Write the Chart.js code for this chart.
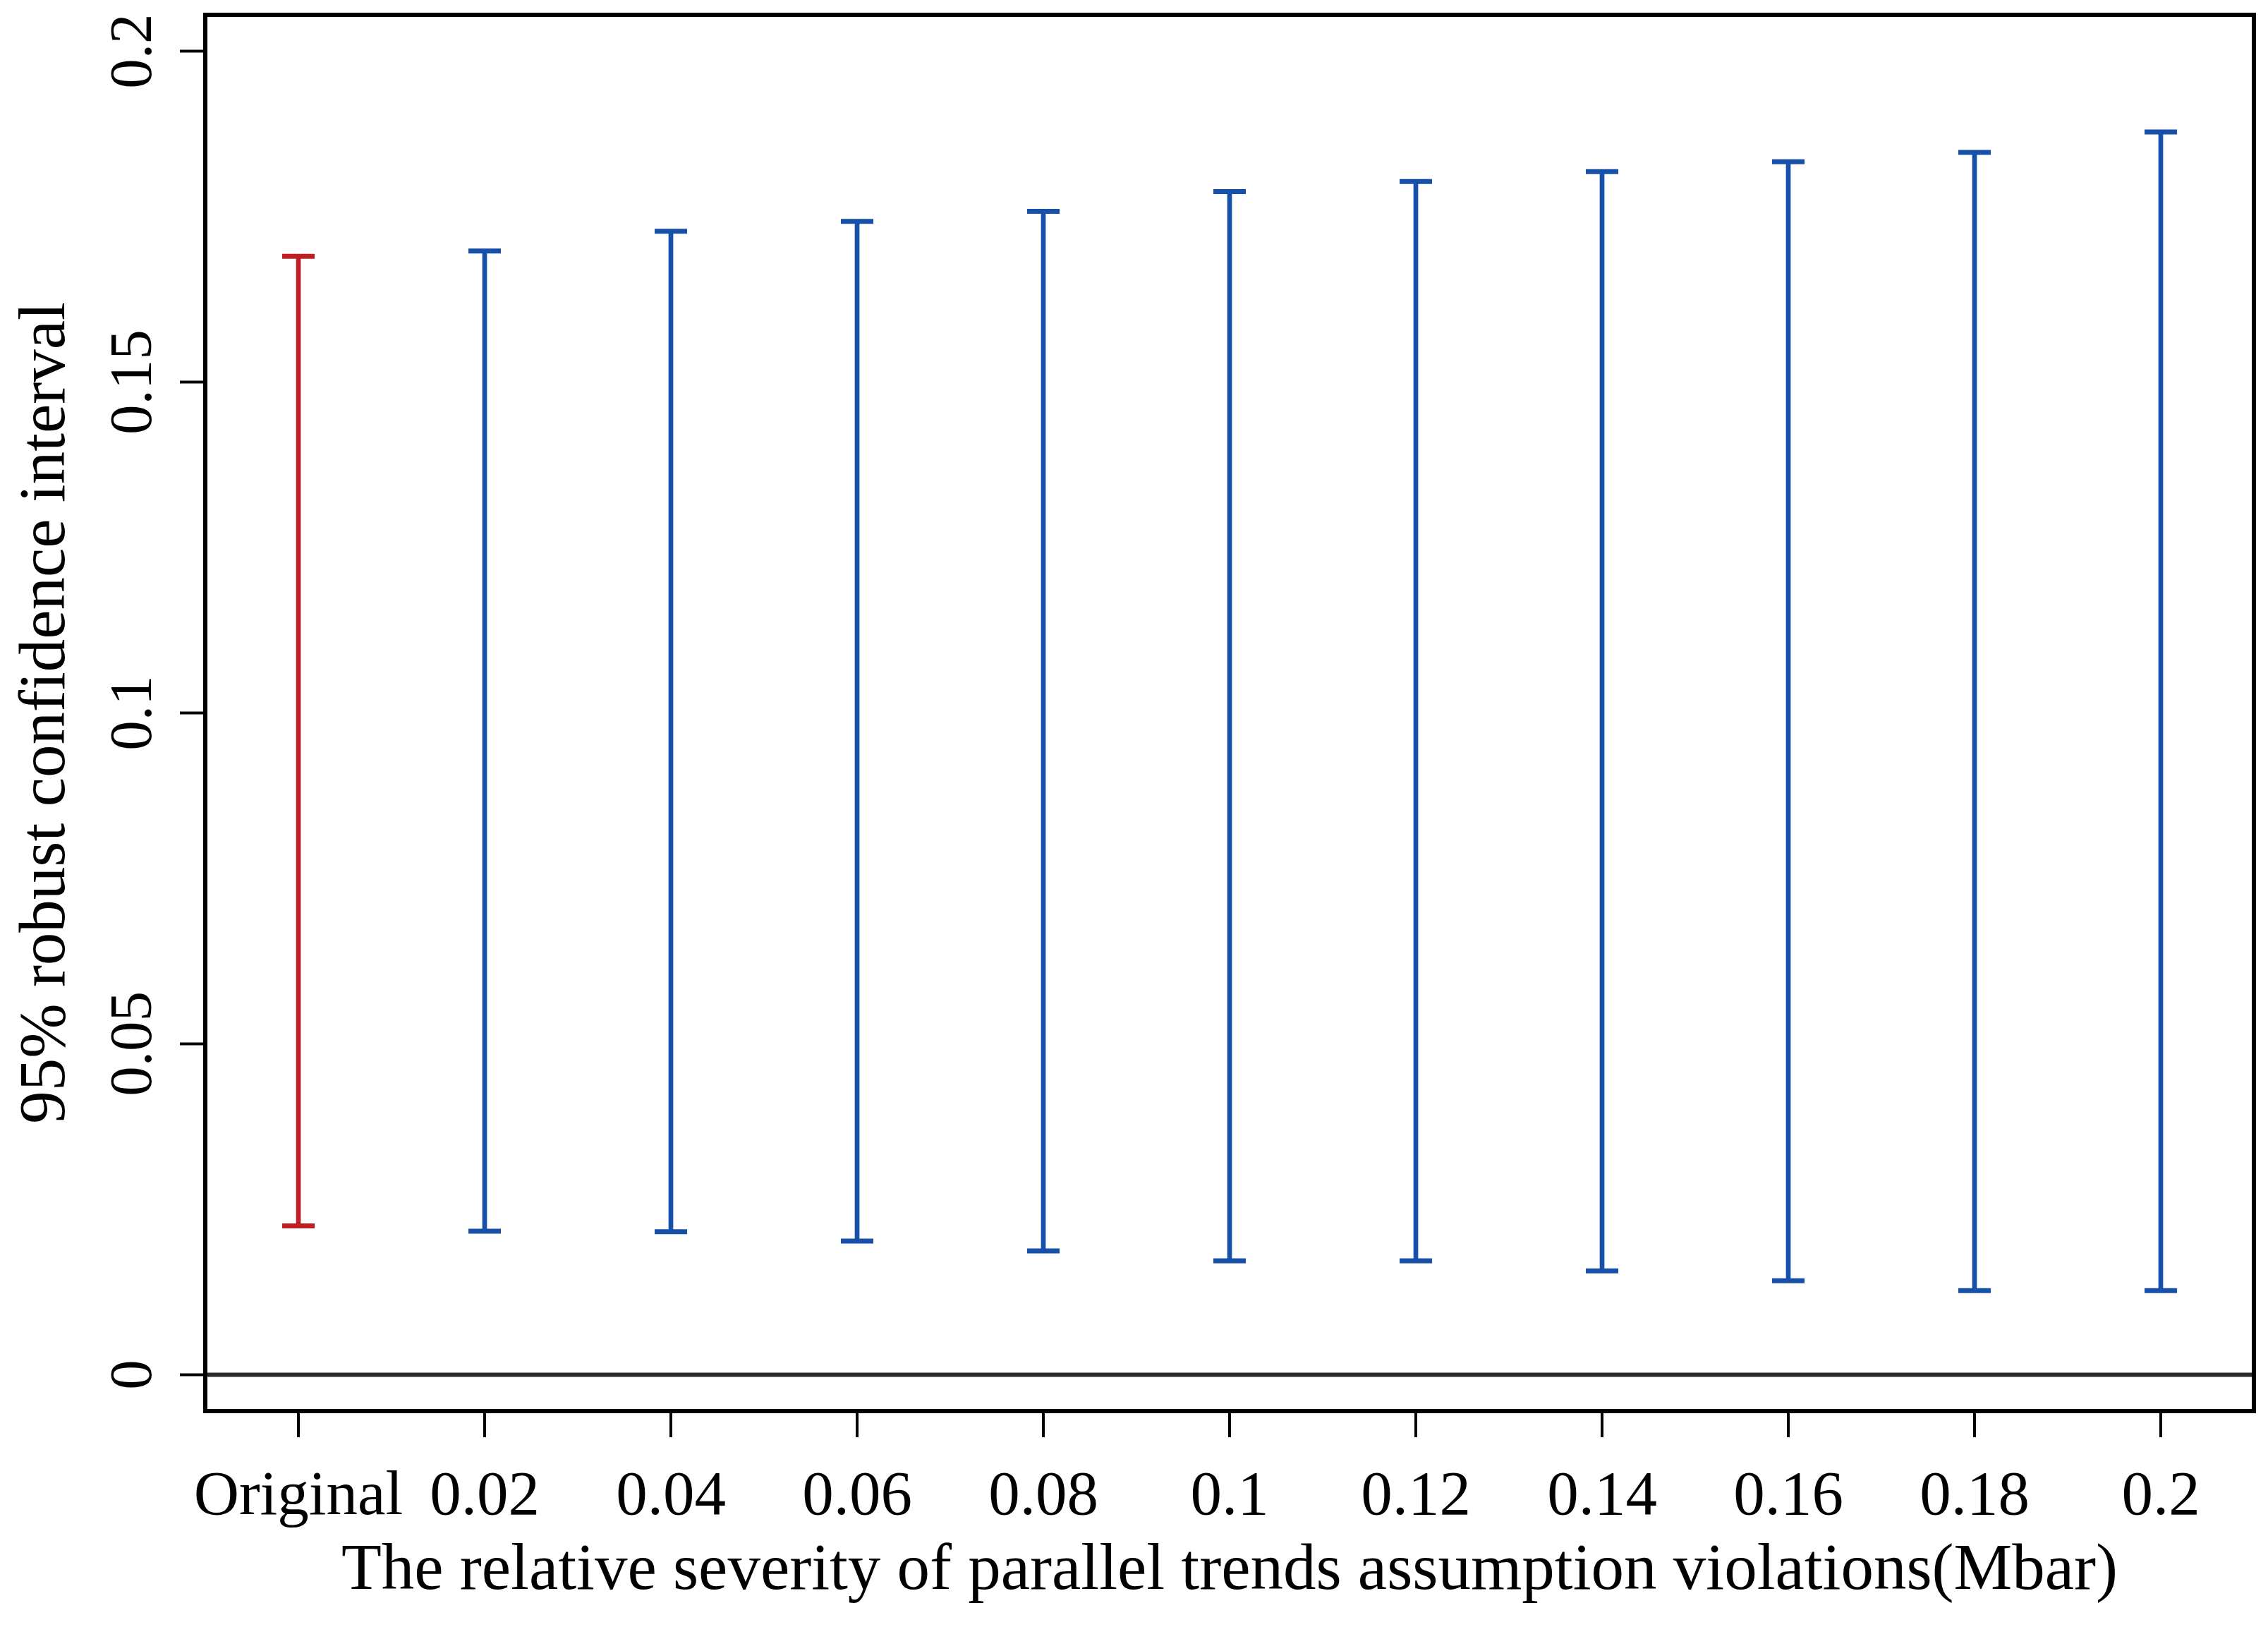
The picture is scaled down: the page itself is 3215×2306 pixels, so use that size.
<!DOCTYPE html>
<html>
<head>
<meta charset="utf-8">
<script src="https://cdn.jsdelivr.net/npm/chart.js@4"></script>
<style>
  html, body { margin: 0; padding: 0; background: #fff; }
  canvas { display: block; }
</style>
</head>
<body>
<canvas id="ciChart" width="3215" height="2306"></canvas>
<script>
// values
const categories = ['Original', '0.02', '0.04', '0.06', '0.08', '0.1', '0.12', '0.14', '0.16', '0.18', '0.2'];
const ciLower = [0.0225, 0.0217, 0.0216, 0.0202, 0.0187, 0.0172, 0.0172, 0.0157, 0.0142, 0.0127, 0.0127];
const ciUpper = [0.1690, 0.1698, 0.1728, 0.1743, 0.1758, 0.1788, 0.1803, 0.1818, 0.1833, 0.1847, 0.1878];
const yTicks = [0, 0.05, 0.1, 0.15, 0.2];
const yTickLabels = ['0', '0.05', '0.1', '0.15', '0.2'];
const xTitle = 'The relative severity of parallel trends assumption violations(Mbar)';
const yTitle = '95% robust confidence interval';

const RED = '#BE1E24';
const BLUE = '#1650A8';
const colors = categories.map((c, i) => i === 0 ? RED : BLUE);
const FONT = '"Liberation Serif", "Times New Roman", serif';

// axes, box and labels drawn R-style on top of the library scales
const baseAxes = {
  id: 'baseAxes',
  beforeDatasetsDraw(chart) {
    const ctx = chart.ctx;
    const area = chart.chartArea;
    const y0 = chart.scales.y.getPixelForValue(0);
    ctx.save();
    ctx.strokeStyle = '#2a2a2a';
    ctx.lineWidth = 6;
    ctx.beginPath();
    ctx.moveTo(area.left, y0);
    ctx.lineTo(area.right, y0);
    ctx.stroke();
    ctx.restore();
  },
  afterDraw(chart) {
    const ctx = chart.ctx;
    const area = chart.chartArea;
    const xs = chart.scales.x;
    const ys = chart.scales.y;
    ctx.save();

    // box
    ctx.strokeStyle = '#000';
    ctx.lineWidth = 6;
    ctx.strokeRect(area.left, area.top, area.right - area.left, area.bottom - area.top);

    // ticks
    ctx.lineWidth = 4;
    ctx.beginPath();
    categories.forEach((c, i) => {
      const x = xs.getPixelForValue(i);
      ctx.moveTo(x, area.bottom);
      ctx.lineTo(x, area.bottom + 37);
    });
    yTicks.forEach(v => {
      const y = ys.getPixelForValue(v);
      ctx.moveTo(area.left, y);
      ctx.lineTo(area.left - 36, y);
    });
    ctx.stroke();

    // tick labels
    ctx.fillStyle = '#000';
    ctx.textAlign = 'center';
    ctx.textBaseline = 'alphabetic';
    ctx.font = '89px ' + FONT;
    categories.forEach((c, i) => {
      ctx.fillText(c, xs.getPixelForValue(i), 2146);
    });
    ctx.font = '85px ' + FONT;
    yTicks.forEach((v, i) => {
      ctx.save();
      ctx.translate(214, ys.getPixelForValue(v));
      ctx.rotate(-Math.PI / 2);
      ctx.fillText(yTickLabels[i], 0, 0);
      ctx.restore();
    });

    // axis titles
    ctx.font = '93px ' + FONT;
    ctx.fillText(xTitle, (area.left + area.right) / 2, 2252);
    ctx.save();
    ctx.translate(91, (area.top + area.bottom) / 2);
    ctx.rotate(-Math.PI / 2);
    ctx.fillText(yTitle, 0, 0);
    ctx.restore();

    ctx.restore();
  }
};

new Chart(document.getElementById('ciChart').getContext('2d'), {
  type: 'bar',
  data: {
    labels: categories,
    datasets: [
      {
        type: 'line',
        label: 'upper',
        data: ciUpper,
        showLine: false,
        pointStyle: 'line',
        pointRadius: 23,
        pointBorderWidth: 7,
        pointBorderColor: colors,
        pointBackgroundColor: colors,
        order: 1
      },
      {
        type: 'line',
        label: 'lower',
        data: ciLower,
        showLine: false,
        pointStyle: 'line',
        pointRadius: 23,
        pointBorderWidth: 7,
        pointBorderColor: colors,
        pointBackgroundColor: colors,
        order: 1
      },
      {
        label: 'interval',
        data: categories.map((c, i) => [ciLower[i], ciUpper[i]]),
        backgroundColor: colors,
        borderWidth: 0,
        barThickness: 6,
        order: 2
      }
    ]
  },
  options: {
    responsive: false,
    animation: false,
    events: [],
    layout: { autoPadding: false, padding: { left: 291, top: 21, right: 20, bottom: 306 } },
    plugins: {
      legend: { display: false },
      tooltip: { enabled: false }
    },
    scales: {
      x: { type: 'category', offset: true, display: false },
      y: { type: 'linear', min: -0.0055, max: 0.2055, display: false }
    }
  },
  plugins: [baseAxes]
});
</script>
</body>
</html>
